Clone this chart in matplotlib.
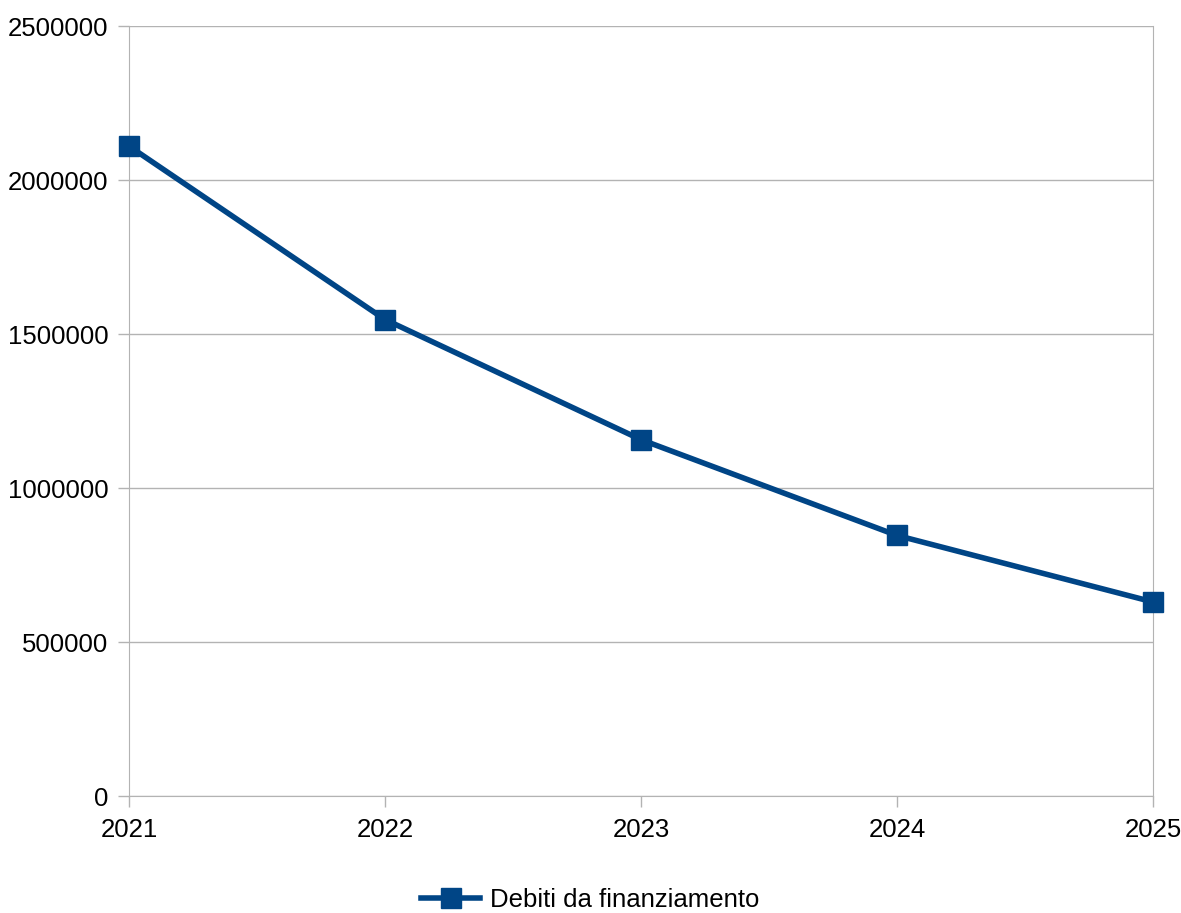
import matplotlib
matplotlib.use("Agg")
import matplotlib.pyplot as plt
from matplotlib.lines import Line2D

years = ["2021", "2022", "2023", "2024", "2025"]
values = [2110000, 1547000, 1157000, 846000, 630000]
series_name = "Debiti da finanziamento"
yticks = [0, 500000, 1000000, 1500000, 2000000, 2500000]

plt.rcParams['font.family'] = ['Liberation Sans', 'DejaVu Sans']
color = "#004586"
grid_c = "#b3b3b3"

fig = plt.figure(figsize=(11.81, 9.13), dpi=100)
ax = fig.add_axes([129/1181, 1-796/913, (1153-129)/1181, (796-26)/913])

x = list(range(len(years)))
ax.plot(x, values, color=color, linewidth=4, marker='s', markersize=14.5,
        markeredgecolor=color, markerfacecolor=color, zorder=5, clip_on=False)

ax.set_xlim(0, len(years)-1)
ax.set_ylim(0, 2500000)
ax.set_xticks(x)
ax.set_xticklabels(years)
ax.set_yticks(yticks)
ax.set_yticklabels([str(v) for v in yticks])
ax.yaxis.grid(True, color=grid_c, linewidth=1)
ax.set_axisbelow(True)
for s in ax.spines.values():
    s.set_visible(False)
for side in ('left', 'bottom', 'right'):
    ax.spines[side].set_visible(True)
    ax.spines[side].set_color(grid_c)
ax.tick_params(axis='both', colors=grid_c, labelcolor='black', labelsize=18.5,
               length=8, width=1)
ax.tick_params(axis='y', pad=7)
ax.tick_params(axis='x', pad=8)

handle = Line2D([], [], color=color, linewidth=4, marker='s', markersize=14.5)
fig.legend([handle], [series_name], loc='center', bbox_to_anchor=(0.5, 1-900/913),
           frameon=False, fontsize=18.5, handlelength=2.3, handletextpad=0.4)

fig.savefig("out.png", dpi=100)
